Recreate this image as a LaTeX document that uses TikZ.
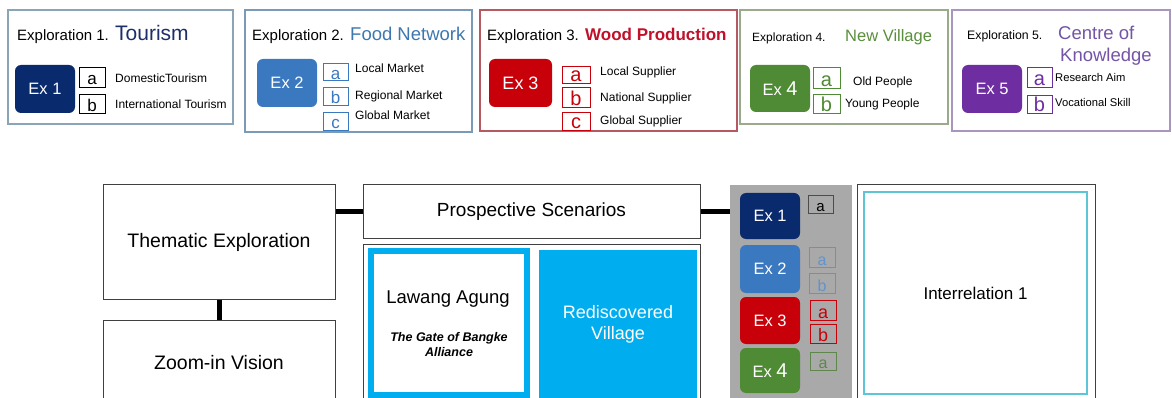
\documentclass[tikz,border=0pt]{standalone}
\usepackage{fontspec}
\setmainfont{Liberation Sans}
\usetikzlibrary{positioning}
\newcommand{\pxfont}[1]{\fontsize{#1}{#1}\selectfont}
\definecolor{exnavy}{HTML}{0A2A6E}
\definecolor{exblue}{HTML}{3A78BF}
\definecolor{exred}{HTML}{C8000A}
\definecolor{exgreen}{HTML}{4F8A34}
\definecolor{expurple}{HTML}{6E2DA0}
\definecolor{ttlnavy}{HTML}{1D2E6B}
\definecolor{ttlblue}{HTML}{3E77B0}
\definecolor{ttlred}{HTML}{C0102A}
\definecolor{ttlgreen}{HTML}{5A8F3C}
\definecolor{ttlpurple}{HTML}{7354A6}
\definecolor{frnavy}{HTML}{8AA4B8}
\definecolor{frblue}{HTML}{7A9BB8}
\definecolor{frred}{HTML}{B55A62}
\definecolor{frgreen}{HTML}{9AAA8A}
\definecolor{frpurple}{HTML}{A896BE}
\definecolor{scencyan}{HTML}{00ADEF}
\definecolor{intercyan}{HTML}{5CC6D6}
\definecolor{panelgrey}{HTML}{A9A9A9}
\tikzset{
  frame/.style={draw, line width=1.3pt, fill=white, inner sep=0pt},
  exbox/.style={rounded corners=6pt, inner sep=0pt, text=white, font=\pxfont{16.5}},
  letterbox/.style={draw, line width=0.8pt, inner sep=0pt, text height=15pt, text depth=0pt, font=\pxfont{17}},
  ttl/.style={anchor=base west, inner sep=0pt, font=\pxfont{15}},
  headttl/.style={anchor=base west, inner sep=0pt, font=\pxfont{18.5}},
  item/.style={anchor=base west, inner sep=0pt, font=\pxfont{12}},
  bigbox/.style={draw=black!75, line width=1pt, fill=white, inner sep=0pt, align=center},
  link/.style={line width=5pt, black}
}

\begin{document}
\begin{tikzpicture}[x=1pt, y=-1pt]
\useasboundingbox (0,0) rectangle (1172,398);
\clip (0,0) rectangle (1172,398);
% exploration 1
\node[frame, draw=frnavy, minimum width=225pt, minimum height=114pt] (f1) at (120.5,67) {};
\node[ttl] (t1) at (17,41) {Exploration 1.};
\node[headttl, text=ttlnavy, font=\pxfont{21}] (h1) at (115,41) {Tourism};
\node[exbox, fill=exnavy, minimum width=60pt, minimum height=48pt] (e1) at (45,89) {Ex 1};
\node[letterbox, minimum width=26pt, minimum height=20pt] (e1a) at (92,77) {a};
\node[letterbox, minimum width=26pt, minimum height=19pt] (e1b) at (92,104) {b};
\node[item] (l1a) at (115,83) {DomesticTourism};
\node[item] (l1b) at (115,109) {International Tourism};
% exploration 2
\node[frame, draw=frblue, minimum width=227pt, minimum height=122pt] (f2) at (358.5,71) {};
\node[ttl] (t2) at (252,41) {Exploration 2.};
\node[headttl, text=ttlblue] (h2) at (350,41) {Food Network};
\node[exbox, fill=exblue, minimum width=60pt, minimum height=48pt] (e2) at (287,83) {Ex 2};
\node[letterbox, draw=exblue, text=exblue, minimum width=25pt, minimum height=17pt] (e2a) at (335.5,72) {a};
\node[letterbox, draw=exblue, text=exblue, minimum width=25pt, minimum height=18pt] (e2b) at (335.5,96) {b};
\node[letterbox, draw=exblue, text=exblue, minimum width=25pt, minimum height=18pt] (e2c) at (335.5,121) {c};
\node[item] (l2a) at (355,73) {Local Market};
\node[item] (l2b) at (355,100) {Regional Market};
\node[item] (l2c) at (355,120) {Global Market};
% exploration 3
\node[frame, draw=frred, minimum width=257pt, minimum height=121pt] (f3) at (608.5,70.5) {};
\node[ttl] (t3) at (487,41) {Exploration 3.};
\node[headttl, text=ttlred, font=\bfseries\pxfont{17}] (h3) at (585,41) {Wood Production};
\node[exbox, fill=exred, minimum width=63pt, minimum height=48pt, font=\pxfont{18}] (e3) at (520.5,83) {Ex 3};
\node[letterbox, draw=exred, text=exred, minimum width=28pt, minimum height=17pt, font=\pxfont{20}, text height=14pt] (e3a) at (576,74.5) {a};
\node[letterbox, draw=exred, text=exred, minimum width=28pt, minimum height=20pt, font=\pxfont{20}, text height=17pt] (e3b) at (576,97) {b};
\node[letterbox, draw=exred, text=exred, minimum width=28pt, minimum height=18pt, font=\pxfont{20}, text height=16pt] (e3c) at (576,121) {c};
\node[item] (l3a) at (600,76) {Local Supplier};
\node[item] (l3b) at (600,102) {National Supplier};
\node[item] (l3c) at (600,125) {Global Supplier};
% exploration 4
\node[frame, draw=frgreen, minimum width=208pt, minimum height=114pt] (f4) at (844,67) {};
\node[ttl, font=\pxfont{12}] (t4) at (752,42) {Exploration 4.};
\node[headttl, text=ttlgreen, font=\pxfont{16.5}] (h4) at (845,42) {New Village};
\node[exbox, fill=exgreen, minimum width=60pt, minimum height=47pt] (e4) at (780,88.5) {Ex {\pxfont{20}4}};
\node[letterbox, draw=exgreen, text=exgreen, minimum width=27pt, minimum height=21pt, font=\pxfont{20}, text height=18pt] (e4a) at (826.5,77.5) {a};
\node[letterbox, draw=exgreen, text=exgreen, minimum width=27pt, minimum height=19pt, font=\pxfont{20}, text height=17pt] (e4b) at (826.5,103.5) {b};
\node[item] (l4a) at (853,86) {Old People};
\node[item] (l4b) at (845,108) {Young People};
% exploration 5
\node[frame, draw=frpurple, minimum width=218pt, minimum height=121pt] (f5) at (1061,70.5) {};
\node[ttl, font=\pxfont{12.3}] (t5) at (967,40) {Exploration 5.};
\node[headttl, text=ttlpurple] (h5) at (1058,40) {Centre of};
\node[headttl, text=ttlpurple] (h5b) at (1060,62) {Knowledge};
\node[exbox, fill=expurple, minimum width=60pt, minimum height=48pt] (e5) at (992,89) {Ex 5};
\node[letterbox, draw=expurple, text=expurple, minimum width=25pt, minimum height=20pt, font=\pxfont{20}, text height=17pt] (e5a) at (1039.5,77) {a};
\node[letterbox, draw=expurple, text=expurple, minimum width=25pt, minimum height=18pt, font=\pxfont{20}, text height=16pt] (e5b) at (1039.5,104) {b};
\node[item, font=\pxfont{11.2}] (l5a) at (1055,82) {Research Aim};
\node[item, font=\pxfont{11.2}] (l5b) at (1055,107) {Vocational Skill};
% thematic column
\node[bigbox, minimum width=232pt, minimum height=114pt, font=\pxfont{19.5}] (them) at (219,242) {Thematic Exploration};
\node[bigbox, minimum width=232pt, minimum height=86pt, font=\pxfont{19.5}] (zoom) at (219,363) {Zoom-in Vision};
% scenarios
\node[bigbox, minimum width=337pt, minimum height=53pt, font=\pxfont{19}] (pros) at (531.5,211.5) {Prospective Scenarios};
\node[bigbox, minimum width=337pt, minimum height=158pt] (scen) at (531.5,323) {};
\node[draw=scencyan, line width=6pt, fill=white, minimum width=156pt, minimum height=144pt] (lawang) at (449,323) {};
\node[inner sep=0pt, font=\pxfont{18.5}] (lawangt) at (448,299) {Lawang Agung};
\node[inner sep=0pt, align=center, font=\bfseries\itshape\fontsize{12.5}{15}\selectfont] (lawangs) at (449,345) {The Gate of Bangke\\Alliance};
\node[fill=scencyan, text=white, align=center, minimum width=158pt, minimum height=148pt, font=\fontsize{18}{21}\selectfont] (redis) at (618,324) {Rediscovered\\Village};
% explorations panel
\node[fill=panelgrey, minimum width=122pt, minimum height=216pt] (panel) at (791,293) {};
\node[exbox, fill=exnavy, minimum width=60pt, minimum height=46pt] (p1) at (770,216) {Ex 1};
\node[exbox, fill=exblue, minimum width=60pt, minimum height=48pt] (p2) at (770,269) {Ex 2};
\node[exbox, fill=exred, minimum width=60pt, minimum height=47pt] (p3) at (770,320.5) {Ex 3};
\node[exbox, fill=exgreen, minimum width=60pt, minimum height=45pt] (p4) at (770,370.5) {Ex {\pxfont{20}4}};
\node[letterbox, draw=black!70, minimum width=25pt, minimum height=18pt, font=\pxfont{15}] (p1a) at (820.5,204) {a};
\node[letterbox, draw=exblue!80, text=exblue!80, minimum width=26pt, minimum height=20pt, font=\pxfont{16}, text height=16pt] (p2a) at (822,257) {a};
\node[letterbox, draw=exblue!80, text=exblue!80, minimum width=26pt, minimum height=20pt, font=\pxfont{16}, text height=16pt] (p2b) at (822,283) {b};
\node[letterbox, draw=exred, text=exred, minimum width=26pt, minimum height=20pt, font=\pxfont{18}, text height=17pt] (p3a) at (823,310) {a};
\node[letterbox, draw=exred, text=exred, minimum width=26pt, minimum height=19pt, font=\pxfont{18}, text height=16pt] (p3b) at (823,333.5) {b};
\node[letterbox, draw=exgreen!70!gray, text=exgreen!70!gray, minimum width=26pt, minimum height=18pt, font=\pxfont{16}] (p4a) at (823,361) {a};
% interrelation
\node[bigbox, minimum width=238pt, minimum height=216pt] (inter) at (976,293) {};
\node[draw=intercyan, line width=1.3pt, minimum width=223pt, minimum height=202pt, font=\pxfont{17}] (interin) at (975.5,293) {Interrelation 1};
% links
\draw[link] (pros.west) -- (pros.west -| them.east);
\draw[link] (pros.east) -- (pros.east -| panel.west);
\draw[link] (them.south) -- (zoom.north);
\end{tikzpicture}
\end{document}
